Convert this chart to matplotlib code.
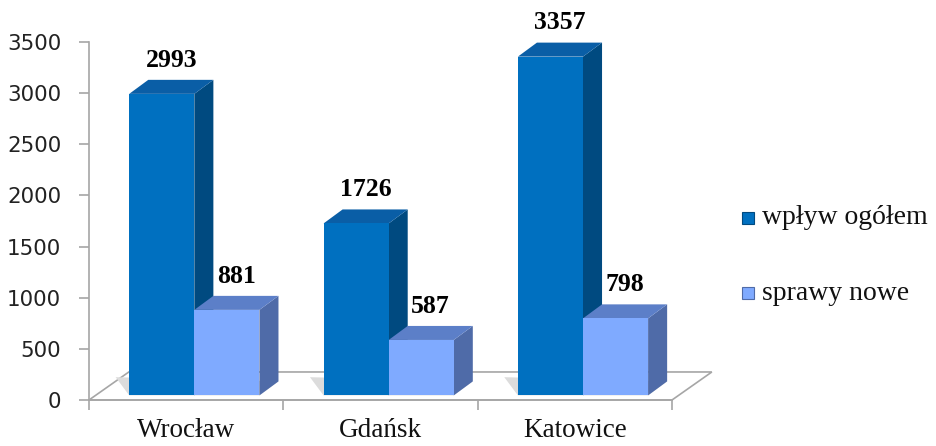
#!/usr/bin/env python3
"""Bar chart with 3D look: wpływ ogółem vs sprawy nowe"""
import numpy as np
import matplotlib.pyplot as plt
from matplotlib.patches import Polygon, Rectangle

# ── Data ──
cities = ['Wrocław', 'Gdańsk', 'Katowice']
wplyw = [2993, 1726, 3357]
nowe = [881, 587, 798]
series_names = ['wpływ ogółem', 'sprawy nowe']

# ── Styles ──
front_cols = ['#0070C0', '#7FAAFF']
side_cols = ['#004A80', '#4F6BA8']
top_cols = ['#0A5EA6', '#5C7FC8']
grid_col = '#A6A6A6'

DX, DY = 0.098, 137      # depth offset of bars (data units)
FDX, FDY = 0.205, 274    # depth offset of the floor
W = 0.335                # bar width
BASE = 45                # bars sit slightly behind the front floor edge

fig = plt.figure(figsize=(9.36, 4.46), dpi=100)
ax = fig.add_axes([89/936, 46/446, 583/936, 358/446])
ax.set_xlim(0, 3)
ax.set_ylim(0, 3500)

# floor
floor = Polygon([(0, 0), (3, 0), (3 + FDX, FDY), (FDX, FDY)], closed=True,
                facecolor='white', edgecolor=grid_col, lw=1.2, clip_on=False, zorder=1)
ax.add_patch(floor)


def bar3d(x0, h, k):
    side = Polygon([(x0 + W, BASE), (x0 + W + DX, BASE + DY), (x0 + W + DX, h + DY), (x0 + W, h)],
                   closed=True, facecolor=side_cols[k], edgecolor='none', clip_on=False, zorder=3)
    top = Polygon([(x0, h), (x0 + W, h), (x0 + W + DX, h + DY), (x0 + DX, h + DY)],
                  closed=True, facecolor=top_cols[k], edgecolor='none', clip_on=False, zorder=3)
    front = Rectangle((x0, BASE), W, h - BASE, facecolor=front_cols[k], edgecolor='none',
                      clip_on=False, zorder=3)
    for p in (side, top, front):
        ax.add_patch(p)
    ax.text(x0 + (W + DX) / 2, h + DY + 80, f'{h}', ha='center', va='bottom',
            fontsize=18.5, fontweight='bold', family='Liberation Serif', clip_on=False, zorder=4)


for i in range(len(cities)):
    c = i + 0.5
    x0 = c - 0.293
    # soft shadow on the floor behind the pair of bars
    ax.add_patch(Polygon([(x0, BASE), (x0 + 2 * W, BASE), (x0 + 2 * W + DX, BASE + DY),
                          (x0 - 0.07, BASE + DY * 1.3)], closed=True,
                         facecolor='#DCDCDC', edgecolor='none', zorder=2))
    bar3d(x0, wplyw[i], 0)
    bar3d(x0 + W, nowe[i], 1)

# axes styling
for s in ('top', 'right'):
    ax.spines[s].set_visible(False)
ax.spines['left'].set_color(grid_col)
ax.spines['bottom'].set_color(grid_col)
ax.spines['left'].set_linewidth(1.2)
ax.spines['bottom'].set_linewidth(1.2)

ax.set_yticks(np.arange(0, 3501, 500))
ax.tick_params(axis='y', colors=grid_col, length=7, width=1.2, pad=13,
               labelcolor='#222222', labelsize=15.4)
ax.set_xticks([0, 1, 2, 3])
ax.set_xticklabels([])
ax.tick_params(axis='x', which='major', colors=grid_col, length=7, width=1.2)
ax.set_xticks([0.5, 1.5, 2.5], minor=True)
ax.set_xticklabels(cities, minor=True, family='Liberation Serif', fontsize=19.5)
ax.tick_params(axis='x', which='minor', length=0, pad=13, labelcolor='#111111')
ax.set_facecolor('none')

# legend (manual)
for k, (name, yy) in enumerate(zip(series_names, [218, 293])):
    fig.patches.append(Rectangle((742/936, (446 - yy - 6)/446), 12/936, 12/446,
                                 transform=fig.transFigure, facecolor=front_cols[k],
                                 edgecolor=side_cols[k], lw=0.8))
    fig.text(762/936, (446 - yy)/446, name, family='Liberation Serif', fontsize=20,
             va='center', ha='left', color='#111111')

plt.savefig('out.png', dpi=100)
